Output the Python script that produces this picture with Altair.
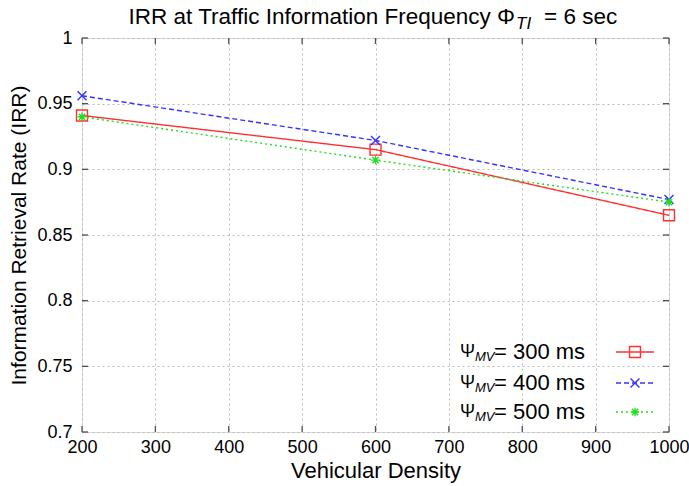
import altair as alt
import pandas as pd

density = [200, 600, 1000]
irr_300 = [0.941, 0.915, 0.865]
irr_400 = [0.956, 0.922, 0.877]
irr_500 = [0.940, 0.907, 0.875]
series_labels = ["= 300 ms", "= 400 ms", "= 500 ms"]
x_ticks = [200, 300, 400, 500, 600, 700, 800, 900, 1000]
y_ticks = [0.7, 0.75, 0.8, 0.85, 0.9, 0.95, 1.0]

W, H = 587, 394
FONT = "Liberation Sans"
AX = "#505050"

xs = alt.Scale(domain=[200, 1000], nice=False, zero=False)
ys = alt.Scale(domain=[0.7, 1.0], nice=False, zero=False)

xt = pd.DataFrame({"t": x_ticks})
yt = pd.DataFrame({"t": y_ticks})

base_x = alt.X("density:Q", scale=xs,
               axis=alt.Axis(values=x_ticks, title="Vehicular Density", format="d",
                             grid=True, gridDash=[2, 3], gridColor="#bbbbbb",
                             ticks=False, domain=False, labelPadding=6, labelFlush=False,
                             labelOverlap=False,
                             labelFontSize=18, titleFontSize=22, titlePadding=4,
                             labelFont=FONT, titleFont=FONT, labelColor="black",
                             titleColor="black", titleFontWeight="normal"))
base_y = alt.Y("irr:Q", scale=ys,
               axis=alt.Axis(values=y_ticks, title="Information Retrieval Rate (IRR)",
                             format=".2~f", grid=True, gridDash=[2, 3], gridColor="#bbbbbb",
                             ticks=False, domain=False, labelPadding=10, labelFlush=False,
                             labelOverlap=False,
                             labelFontSize=18, titleFontSize=21, titlePadding=7,
                             labelFont=FONT, titleFont=FONT, labelColor="black",
                             titleColor="black", titleFontWeight="normal"))

x_shape = "M-1,-1L1,1M-1,1L1,-1"
star_shape = "M-1,0L1,0M0,-1L0,1M-0.75,-0.75L0.75,0.75M-0.75,0.75L0.75,-0.75"

series = [
    (irr_300, "#ff3030", [1, 0], "square", 120),
    (irr_400, "#3333ff", [5, 3], x_shape, 80),
    (irr_500, "#22dd22", [2, 3], star_shape, 70),
]

layers = []
for vals, col, dash, shape, sz in series:
    df = pd.DataFrame({"density": density, "irr": vals})
    line = alt.Chart(df).mark_line(color=col, strokeWidth=1.4, strokeDash=dash).encode(
        x=base_x, y=base_y)
    pts = alt.Chart(df).mark_point(shape=shape, size=sz, color=col, filled=False,
                                   strokeWidth=1.4, opacity=1).encode(
        x=alt.X("density:Q", scale=xs), y=alt.Y("irr:Q", scale=ys))
    layers += [line, pts]

# inward ticks on all four sides
tick_style = dict(color=AX, strokeWidth=1.3)
layers.append(alt.Chart(xt).mark_rule(**tick_style).encode(
    x=alt.X("t:Q", scale=xs), y=alt.value(H), y2=alt.value(H - 6)))
layers.append(alt.Chart(xt).mark_rule(**tick_style).encode(
    x=alt.X("t:Q", scale=xs), y=alt.value(0), y2=alt.value(6)))
layers.append(alt.Chart(yt).mark_rule(**tick_style).encode(
    y=alt.Y("t:Q", scale=ys), x=alt.value(0), x2=alt.value(6)))
layers.append(alt.Chart(yt).mark_rule(**tick_style).encode(
    y=alt.Y("t:Q", scale=ys), x=alt.value(W), x2=alt.value(W - 6)))

one = pd.DataFrame({"a": [0]})

# legend
row_y = [314, 345, 374]
for i, (vals, col, dash, shape, sz) in enumerate(series):
    yy = row_y[i]
    layers.append(alt.Chart(one).mark_text(align="left", baseline="middle", font=FONT,
                                           fontSize=18, color="black").encode(
        x=alt.value(378), y=alt.value(yy), text=alt.value("Ψ")))
    layers.append(alt.Chart(one).mark_text(align="left", baseline="middle", font=FONT,
                                           fontSize=13, fontStyle="italic", color="black").encode(
        x=alt.value(393), y=alt.value(yy + 5), text=alt.value("MV")))
    layers.append(alt.Chart(one).mark_text(align="left", baseline="middle", font=FONT,
                                           fontSize=22, color="black").encode(
        x=alt.value(412), y=alt.value(yy), text=alt.value(series_labels[i])))
    layers.append(alt.Chart(one).mark_rule(color=col, strokeWidth=1.4, strokeDash=dash).encode(
        x=alt.value(534), x2=alt.value(572), y=alt.value(yy)))
    layers.append(alt.Chart(one).mark_point(shape=shape, size=sz, color=col, filled=False,
                                            strokeWidth=1.4, opacity=1).encode(
        x=alt.value(553), y=alt.value(yy)))

# title
layers.append(alt.Chart(one).mark_text(align="right", baseline="middle", font=FONT,
                                       fontSize=22.5, color="black").encode(
    x=alt.value(433), y=alt.value(-21), text=alt.value("IRR at Traffic Information Frequency Φ")))
layers.append(alt.Chart(one).mark_text(align="left", baseline="middle", font=FONT,
                                       fontSize=17, fontStyle="italic", color="black").encode(
    x=alt.value(434), y=alt.value(-14), text=alt.value("TI")))
layers.append(alt.Chart(one).mark_text(align="left", baseline="middle", font=FONT,
                                       fontSize=22.5, color="black").encode(
    x=alt.value(462), y=alt.value(-21), text=alt.value("= 6 sec")))

chart = alt.layer(*layers).properties(
    width=W, height=H,
    autosize=alt.AutoSizeParams(type="none"),
    padding={"left": 82, "top": 38, "right": 20, "bottom": 54},
).configure_view(stroke=AX, strokeWidth=1.5).configure(background="white")

chart.save("out.html", embed_options={"renderer": "svg", "actions": False})
